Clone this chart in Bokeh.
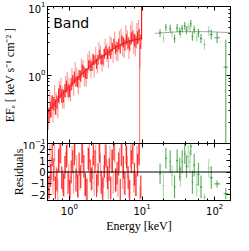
import numpy as np
from bokeh.plotting import figure
from bokeh.layouts import column
from bokeh.models import (ColumnDataSource, Range1d, LogAxis, LinearAxis, FixedTicker,
                          CustomJSTickFormatter, Label, Span, LogTicker)
from bokeh.embed import file_html
from bokeh.resources import INLINE

# ---------------- data ----------------
red_a_E = [0.500, 0.526, 0.553, 0.581, 0.611, 0.642, 0.675, 0.710, 0.746, 0.785,
           0.825, 0.867, 0.912, 0.959, 1.008, 1.060, 1.114, 1.172, 1.232, 1.295,
           1.362, 1.432, 1.505, 1.583, 1.664, 1.750, 1.840, 1.934, 2.034, 2.138,
           2.248, 2.364, 2.485, 2.613, 2.747, 2.888, 3.037, 3.193, 3.357, 3.529,
           3.711, 3.901, 4.102, 4.313, 4.534, 4.767, 5.012, 5.270, 5.541, 5.825,
           6.125, 6.439, 6.770, 7.118, 7.484, 7.869, 8.273, 8.698, 9.145, 9.615]
red_a_F = [0.29, 0.26, 0.31, 0.40, 0.38, 0.34, 0.40, 0.50, 0.57, 0.49,
           0.49, 0.59, 0.68, 0.59, 0.58, 0.73, 0.83, 0.92, 0.80, 0.80,
           1.00, 0.96, 1.20, 1.13, 1.05, 1.05, 1.40, 1.36, 1.35, 1.67,
           1.66, 1.46, 1.66, 2.01, 1.69, 1.66, 2.04, 2.26, 2.03, 2.23,
           2.02, 2.55, 2.85, 2.37, 2.56, 2.83, 2.39, 3.16, 2.98, 2.72,
           3.31, 2.95, 2.71, 3.43, 3.69, 3.21, 3.01, 3.52, 3.81, 3.06]
red_a_relerr = [0.30, 0.28, 0.32, 0.27, 0.26, 0.29, 0.25, 0.27, 0.24, 0.26,
                0.23, 0.25, 0.22, 0.24, 0.21, 0.23, 0.20, 0.22, 0.19, 0.21,
                0.18, 0.20, 0.19, 0.21, 0.18, 0.20, 0.17, 0.19, 0.18, 0.20,
                0.17, 0.19, 0.18, 0.16, 0.19, 0.17, 0.18, 0.16, 0.19, 0.17,
                0.18, 0.16, 0.19, 0.17, 0.18, 0.20, 0.17, 0.19, 0.18, 0.20,
                0.19, 0.21, 0.20, 0.22, 0.21, 0.23, 0.22, 0.25, 0.24, 0.28]
red_a_res = [0.5, -1.3, -0.3, 1.5, 0.2, -1.4, -0.7, 1.0, 1.8, -0.5,
             -1.1, 0.4, 1.4, -0.9, -1.7, 0.0, 0.9, 1.6, -0.7, -1.2,
             0.7, -0.4, 1.8, 0.5, -1.1, -1.6, 1.1, 0.1, -0.6, 1.6,
             0.9, -1.2, -0.2, 1.8, -0.9, -1.5, 0.5, 1.4, -0.5, 0.2,
             -1.4, 1.0, 2.0, -0.7, -0.1, 0.7, -1.6, 1.5, 0.4, -1.0,
             1.3, -0.5, -1.7, 0.9, 1.7, -0.2, -1.1, 0.6, 1.6, -1.3]

red_b_E = [0.513, 0.539, 0.567, 0.596, 0.626, 0.658, 0.692, 0.728, 0.765, 0.805,
           0.846, 0.889, 0.935, 0.983, 1.034, 1.087, 1.142, 1.202, 1.263, 1.328,
           1.397, 1.468, 1.543, 1.623, 1.706, 1.794, 1.887, 1.983, 2.086, 2.192,
           2.305, 2.424, 2.548, 2.679, 2.817, 2.961, 3.114, 3.274, 3.442, 3.619,
           3.805, 4.000, 4.206, 4.423, 4.649, 4.888, 5.139, 5.404, 5.682, 5.973,
           6.280, 6.603, 6.942, 7.299, 7.674, 8.069, 8.483, 8.919, 9.377]
red_b_F = [0.23, 0.38, 0.35, 0.30, 0.49, 0.38, 0.33, 0.55, 0.64, 0.47,
           0.45, 0.67, 0.79, 0.63, 0.56, 0.89, 0.68, 1.10, 0.95, 0.73,
           0.88, 1.25, 1.22, 0.93, 0.91, 1.48, 1.68, 1.25, 1.54, 1.24,
           1.95, 1.44, 2.25, 1.96, 1.48, 1.79, 2.52, 2.12, 1.68, 2.70,
           2.63, 2.04, 3.20, 2.27, 2.13, 3.17, 3.45, 2.62, 2.45, 3.80,
           3.25, 2.46, 3.88, 4.28, 2.87, 2.71, 4.00, 4.30, 1.86]
red_b_relerr = [0.45, 0.50, 0.42, 0.48, 0.44, 0.46, 0.41, 0.47, 0.43, 0.45,
                0.40, 0.44, 0.39, 0.43, 0.38, 0.42, 0.37, 0.41, 0.36, 0.40,
                0.35, 0.39, 0.36, 0.38, 0.34, 0.37, 0.35, 0.38, 0.34, 0.36,
                0.33, 0.37, 0.34, 0.36, 0.33, 0.35, 0.34, 0.36, 0.33, 0.37,
                0.34, 0.36, 0.35, 0.38, 0.36, 0.39, 0.37, 0.40, 0.38, 0.41,
                0.39, 0.42, 0.40, 0.44, 0.42, 0.46, 0.44, 0.48, 0.50]
red_b_res = [-1.4, 1.4, 0.3, -1.0, 1.9, -0.5, -1.6, 1.1, 1.7, -0.8,
             -1.2, 0.8, 1.6, -0.3, -1.3, 1.3, -0.9, 2.0, 0.5, -1.3,
             -0.6, 1.5, 0.9, -1.1, -1.5, 1.2, 1.8, -0.6, 0.4, -1.1,
             1.4, -0.8, 1.9, 0.6, -1.3, -0.4, 1.6, 0.1, -1.4, 1.3,
             0.9, -0.9, 1.8, -0.7, -1.2, 1.1, 1.5, -0.5, -1.0, 1.7,
             0.4, -1.3, 1.4, 2.1, -0.8, -1.1, 1.3, 1.8, -2.2]

# the two edge bins near 10 keV with very large errors
edge_E = [9.25, 9.85]
edge_lo = [0.08, 3.3]
edge_hi = [3.0, 12.0]
edge_set = ["B", "A"]

green_E = [17.7, 19.7, 21.3, 24.4, 25.8, 28.0, 30.4, 33.0, 33.8, 35.7,
           38.7, 40.9, 43.2, 45.6, 46.9, 49.4, 52.2, 56.6, 59.8, 64.8,
           72.3, 82.8, 89.7, 108.0, 142.0]
green_dex = [0.012, 0.012, 0.012, 0.012, 0.012, 0.012, 0.012, 0.012, 0.012, 0.012,
             0.012, 0.012, 0.012, 0.012, 0.012, 0.012, 0.014, 0.014, 0.014, 0.016,
             0.018, 0.02, 0.022, 0.04, 0.03]
green_F = [4.1, 3.45, 4.95, 4.75, 4.0, 3.4, 4.85, 4.35, 3.95, 4.75,
           5.2, 4.5, 5.05, 4.75, 5.6, 3.65, 4.6, 3.5, 4.1, 3.4,
           2.8, 4.4, 3.9, 3.5, 1.3]
green_lo = [3.6, 3.0, 4.38, 4.17, 3.54, 2.96, 4.25, 3.85, 3.46, 4.2,
            4.56, 3.95, 4.47, 4.17, 4.96, 3.17, 4.04, 3.04, 3.57, 2.9,
            2.33, 3.73, 3.3, 2.92, 0.05]
green_hi = [4.67, 3.97, 5.6, 5.42, 4.52, 3.91, 5.53, 4.92, 4.5, 5.37,
            5.93, 5.13, 5.7, 5.42, 6.33, 4.2, 5.24, 4.03, 4.72, 3.98,
            3.36, 5.19, 4.6, 4.2, 3.3]
green_res = [-0.15, -1.2, 1.2, 0.9, -0.3, -1.3, 1.0, 0.25, -0.4, 0.9,
             1.6, 0.5, 1.35, 0.9, 2.25, -0.9, 0.6, -1.1, -0.2, -1.3,
             -2.2, 0.35, -0.5, -1.05, -1.9]
green_res_err = [0.9, 1.1, 0.9, 1.0, 0.9, 1.0, 1.0, 1.0, 0.9, 1.0,
                 0.9, 1.0, 1.0, 1.0, 0.8, 1.0, 1.0, 1.0, 1.0, 1.0,
                 0.3, 0.8, 1.0, 0.3, 0.5]
green_set = ["A", "B", "A", "A", "B", "A", "A", "A", "B", "A",
             "A", "A", "B", "B", "A", "A", "A", "B", "A", "A",
             "B", "B", "A", "A", "A"]

model_red_E = [0.5, 0.6, 0.7, 0.8, 1.0, 1.2, 1.5, 2.0, 2.5, 3.0, 4.0, 5.0, 6.0, 7.0, 8.0, 9.0, 10.0]
model_red_F = [0.28, 0.36, 0.45, 0.53, 0.68, 0.83, 1.03, 1.40, 1.70, 1.95, 2.40, 2.75, 3.00, 3.18, 3.28, 3.35, 3.40]
model_green_E = [15, 20, 30, 40, 60, 80, 100, 130, 165]
model_green_F = [4.05, 4.15, 4.25, 4.3, 4.3, 4.28, 4.25, 4.2, 4.15]

flux_ticks = [0.1, 1, 10]
flux_minor = [0.2, 0.3, 0.4, 0.5, 0.6, 0.7, 0.8, 0.9, 2, 3, 4, 5, 6, 7, 8, 9]
res_ticks = [-2, -1, 0, 1, 2]
res_minor = [-2.5, -1.5, -0.5, 0.5, 1.5, 2.5]

# ---------------- styling ----------------
RED = "#ff0000"
GREEN = "#008000"
ALPHA = {"A": 0.8, "B": 0.38}
GALPHA = {"A": 0.6, "B": 0.28}
TICK_FONT = "DejaVu Sans"
LABEL_FONT = "Liberation Serif"

W = 233
LEFT = 31
RIGHT = 3
OVERLAP = 6   # the residual panel slides up under the flux panel's bottom border

xr = Range1d(0.5, 165)


def style_axis(ax, labels=True):
    ax.major_tick_in = 4
    ax.major_tick_out = 0
    ax.minor_tick_in = 2
    ax.minor_tick_out = 0
    ax.axis_line_color = "black"
    ax.major_tick_line_color = "black"
    ax.minor_tick_line_color = "black"
    ax.major_label_text_font = TICK_FONT
    ax.major_label_text_font_size = "10px"
    ax.major_label_text_color = "black"
    ax.axis_label_text_font = LABEL_FONT
    ax.axis_label_text_font_style = "normal"
    ax.axis_label_text_font_size = "12px"
    ax.axis_label_text_color = "black"
    if not labels:
        ax.formatter = CustomJSTickFormatter(code="return ''")
        ax.major_label_text_font_size = "0px"
        ax.major_label_standoff = 0


def base_fig(height, yr, ytype, top_border, bottom_border, **kw):
    p = figure(width=W, height=height, x_axis_type="log", y_axis_type=ytype,
               x_range=xr, y_range=yr, output_backend="svg", toolbar_location=None,
               min_border_left=LEFT, min_border_right=RIGHT,
               min_border_top=top_border, min_border_bottom=bottom_border, **kw)
    p.grid.visible = False
    p.outline_line_color = "black"
    p.background_fill_color = "white"
    p.border_fill_color = "white"
    return p


# ---------------- top panel ----------------
top = base_fig(143 + OVERLAP, Range1d(0.1, 10), "log", 6, OVERLAP,
               styles={"position": "relative", "z-index": "2"})
top.border_fill_alpha = 0
for ax in top.xaxis:
    ax.ticker = LogTicker()
    style_axis(ax, labels=False)
style_axis(top.yaxis[0])
top.yaxis[0].ticker = FixedTicker(ticks=flux_ticks, minor_ticks=flux_minor)
top.yaxis[0].axis_label = "EF\u2091 [ keV s\u207b\u00b9 cm\u207b\u00b2 ]"
top.yaxis[0].axis_label_standoff = 2
top.yaxis[0].major_label_standoff = 2
ax_r = LogAxis(ticker=FixedTicker(ticks=flux_ticks, minor_ticks=flux_minor))
style_axis(ax_r, labels=False)
top.add_layout(ax_r, "right")
ax_t = LogAxis()
style_axis(ax_t, labels=False)
top.add_layout(ax_t, "above")

top.line(model_red_E, model_red_F, line_color="black", line_width=1, line_alpha=0.6)
top.line(model_green_E, model_green_F, line_color="black", line_width=1, line_alpha=0.35)

for E, F, r, s in [(red_a_E, red_a_F, red_a_relerr, "A"), (red_b_E, red_b_F, red_b_relerr, "B")]:
    E = np.array(E); F = np.array(F); r = np.array(r)
    top.segment(x0=E, y0=F / (1 + r), x1=E, y1=F * (1 + r),
                line_color=RED, line_alpha=ALPHA[s], line_width=1.2)
for E, lo, hi, s in zip(edge_E, edge_lo, edge_hi, edge_set):
    top.segment(x0=[E], y0=[lo], x1=[E], y1=[hi], line_color=RED,
                line_alpha=ALPHA[s] + 0.1, line_width=1.2)

gE = np.array(green_E); gd = 10 ** np.array(green_dex)
galpha = [GALPHA[s] for s in green_set]
gsrc = ColumnDataSource(dict(E=gE, El=gE / gd, Eh=gE * gd, F=green_F, lo=green_lo,
                             hi=green_hi, a=galpha,
                             r=green_res, rl=np.array(green_res) - np.array(green_res_err),
                             rh=np.array(green_res) + np.array(green_res_err)))
top.segment(x0="E", y0="lo", x1="E", y1="hi", source=gsrc, line_color=GREEN,
            line_alpha="a", line_width=1.2)
top.segment(x0="El", y0="F", x1="Eh", y1="F", source=gsrc, line_color=GREEN,
            line_alpha="a", line_width=1.2)

top.add_layout(Label(x=0.6, y=7.6, text="Band", text_baseline="top",
                     text_font=TICK_FONT, text_font_size="14px", text_color="black"))

# ---------------- residual panel ----------------
bot = base_fig(92, Range1d(-2.5, 2.5), "linear", 0, 24,
               styles={"margin-top": f"-{OVERLAP}px", "position": "relative", "z-index": "1"})
style_axis(bot.xaxis[0])
bot.xaxis[0].ticker = LogTicker()
bot.xaxis[0].axis_label = "Energy [keV]"
bot.xaxis[0].axis_label_standoff = 1
bot.xaxis[0].major_label_standoff = 2
style_axis(bot.yaxis[0])
bot.yaxis[0].ticker = FixedTicker(ticks=res_ticks, minor_ticks=res_minor)
bot.yaxis[0].formatter = CustomJSTickFormatter(
    code="return tick < 0 ? '\u2212' + Math.abs(tick) : String(tick)")
bot.yaxis[0].axis_label = "Residuals"
bot.yaxis[0].axis_label_standoff = 2
bot.yaxis[0].major_label_standoff = 2
bax_r = LinearAxis(ticker=FixedTicker(ticks=res_ticks, minor_ticks=res_minor))
style_axis(bax_r, labels=False)
bot.add_layout(bax_r, "right")
bax_t = LogAxis()
style_axis(bax_t, labels=False)
bot.add_layout(bax_t, "above")

for E, R, s in [(red_a_E, red_a_res, "A"), (red_b_E, red_b_res, "B")]:
    E = np.array(E); R = np.array(R)
    bot.segment(x0=E, y0=R - 1, x1=E, y1=R + 1, line_color=RED,
                line_alpha=ALPHA[s], line_width=1.2)
bot.segment(x0="E", y0="rl", x1="E", y1="rh", source=gsrc, line_color=GREEN,
            line_alpha="a", line_width=1.2)
bot.segment(x0="El", y0="r", x1="Eh", y1="r", source=gsrc, line_color=GREEN,
            line_alpha="a", line_width=1.2)
bot.add_layout(Span(location=0, dimension="width", line_color="black", line_width=1))

layout = column(top, bot, spacing=0)
open("out.html", "w").write(file_html(layout, INLINE))
